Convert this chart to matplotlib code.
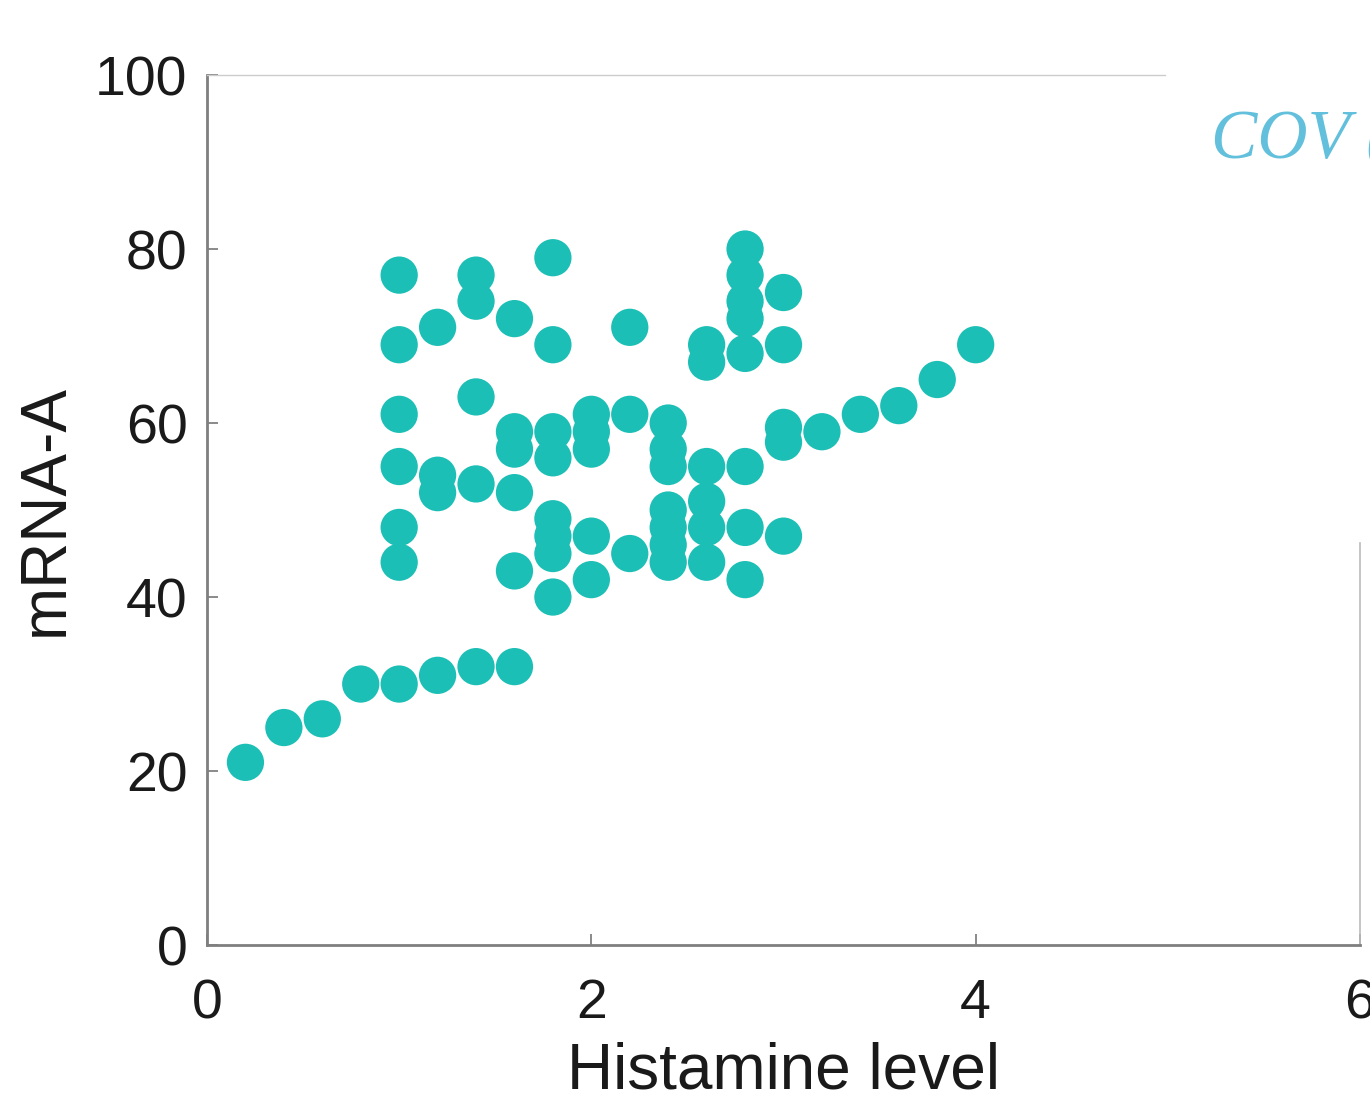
import numpy as np
import matplotlib.pyplot as plt

# Datos (nivel de histamina vs mRNA-A)
histamine = [
    0.2, 0.4, 0.6, 0.8,
    1.0, 1.0, 1.0, 1.0, 1.0, 1.0, 1.0,
    1.2, 1.2, 1.2, 1.2,
    1.4, 1.4, 1.4, 1.4, 1.4,
    1.6, 1.6, 1.6, 1.6, 1.6, 1.6,
    1.8, 1.8, 1.8, 1.8, 1.8, 1.8, 1.8, 1.8,
    2.0, 2.0, 2.0, 2.0, 2.0,
    2.2, 2.2, 2.2,
    2.4, 2.4, 2.4, 2.4, 2.4, 2.4, 2.4,
    2.6, 2.6, 2.6, 2.6, 2.6, 2.6,
    2.8, 2.8, 2.8, 2.8, 2.8, 2.8, 2.8, 2.8,
    3.0, 3.0, 3.0, 3.0, 3.0,
    3.2, 3.4, 3.6, 3.8, 4.0,
]
mrna = [
    21, 25, 26, 30,
    30, 44, 48, 55, 61, 69, 77,
    31, 52, 54, 71,
    32, 53, 63, 74, 77,
    32, 43, 52, 57, 59, 72,
    40, 45, 47, 49, 56, 59, 69, 79,
    42, 47, 57, 59, 61,
    45, 61, 71,
    44, 46, 48, 50, 55, 57, 60,
    44, 48, 51, 55, 67, 69,
    42, 48, 55, 68, 72, 74, 77, 80,
    47, 57.8, 59.5, 69, 75,
    59, 61, 62, 65, 69,
]

color_pts = '#1cbfb5'

fig = plt.figure(figsize=(13.7, 11.03), dpi=100)
ax = fig.add_axes([0.1511, 0.1432, 0.8416, 0.7888])

ax.scatter(histamine, mrna, s=720, color=color_pts, edgecolors='none', zorder=3)

ax.set_xlim(0, 6)
ax.set_ylim(0, 100)
ax.set_xticks([0, 2, 4, 6])
ax.set_yticks([0, 20, 40, 60, 80, 100])

font = 'Liberation Sans'
ax.tick_params(direction='in', length=8, width=1.2, color='#777777',
               labelsize=40, labelcolor='#1a1a1a')
ax.tick_params(axis='x', pad=24)
ax.tick_params(axis='y', pad=14)
for lab in ax.get_xticklabels() + ax.get_yticklabels():
    lab.set_family(font)

ax.set_xlabel('Histamine level', fontsize=46, family=font, color='#1a1a1a', labelpad=8)
ax.set_ylabel('mRNA-A', fontsize=46, family=font, color='#1a1a1a', labelpad=14)

for side in ['left', 'bottom']:
    ax.spines[side].set_color('#7f7f7f')
    ax.spines[side].set_linewidth(2.0)
ax.spines['top'].set_color('#cccccc')
ax.spines['top'].set_linewidth(1.0)
ax.spines['top'].set_bounds(0, 4.985)
ax.spines['right'].set_color('#bbbbbb')
ax.spines['right'].set_linewidth(1.2)
ax.spines['right'].set_bounds(0, 46.2)

fig.text(0.884, 0.857, 'COV (', fontsize=50, family='Liberation Serif',
         style='italic', color='#62c0dc', va='baseline', ha='left')

fig.savefig('out.png', dpi=100)
